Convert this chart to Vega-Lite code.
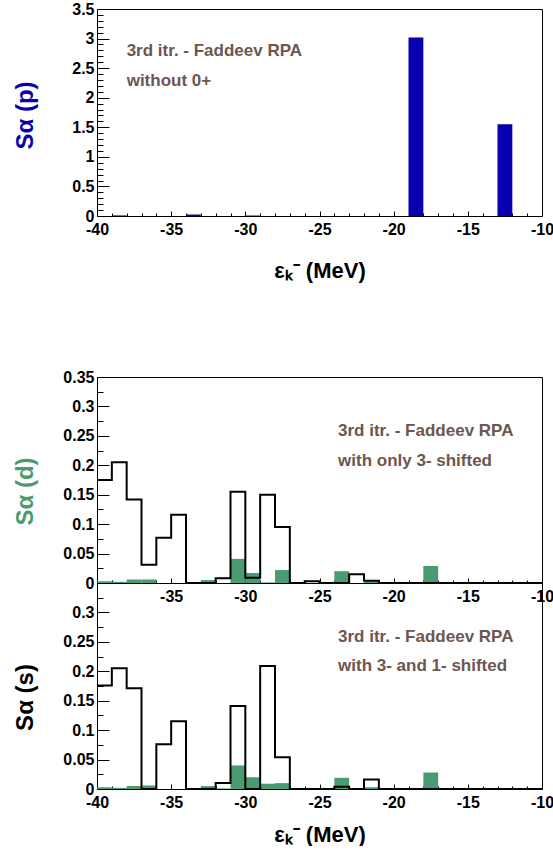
{
  "$schema": "https://vega.github.io/schema/vega-lite/v6.json",
  "background": "white",
  "padding": {"left": 12, "top": 0, "right": 0, "bottom": 0},
  "autosize": {"type": "pad"},
  "config": {
    "view": {"stroke": "black", "strokeWidth": 1},
    "font": "Liberation Sans",
    "axis": {
      "grid": false,
      "domain": false,
      "labelFont": "Liberation Sans",
      "labelFontWeight": "bold",
      "labelFontSize": 16,
      "labelColor": "black",
      "titleFont": "Liberation Sans",
      "titleFontWeight": "bold",
      "titleColor": "black",
      "tickColor": "black",
      "tickWidth": 1,
      "labelOverlap": false,
      "labelFlush": false
    }
  },
  "datasets": {
    "p": [
      {"e": -39, "e1": -38, "s": 0.01},
      {"e": -34, "e1": -33, "s": 0.025},
      {"e": -30, "e1": -29, "s": 0.008},
      {"e": -19, "e1": -18, "s": 3.02},
      {"e": -13, "e1": -12, "s": 1.55}
    ],
    "d": [
      {"e": -40, "e1": -39, "tot": 0.175, "part": 0.003},
      {"e": -39, "e1": -38, "tot": 0.205, "part": 0.002},
      {"e": -38, "e1": -37, "tot": 0.142, "part": 0.006},
      {"e": -37, "e1": -36, "tot": 0.031, "part": 0.006},
      {"e": -36, "e1": -35, "tot": 0.077, "part": 0},
      {"e": -35, "e1": -34, "tot": 0.116, "part": 0},
      {"e": -34, "e1": -33, "tot": 0, "part": 0},
      {"e": -33, "e1": -32, "tot": 0, "part": 0.005},
      {"e": -32, "e1": -31, "tot": 0.008, "part": 0},
      {"e": -31, "e1": -30, "tot": 0.155, "part": 0.041},
      {"e": -30, "e1": -29, "tot": 0.009, "part": 0.017},
      {"e": -29, "e1": -28, "tot": 0.150, "part": 0.001},
      {"e": -28, "e1": -27, "tot": 0.095, "part": 0.022},
      {"e": -27, "e1": -26, "tot": 0, "part": 0},
      {"e": -26, "e1": -25, "tot": 0.003, "part": 0},
      {"e": -25, "e1": -24, "tot": 0, "part": 0},
      {"e": -24, "e1": -23, "tot": 0, "part": 0.020},
      {"e": -23, "e1": -22, "tot": 0.015, "part": 0},
      {"e": -22, "e1": -21, "tot": 0.004, "part": 0.003},
      {"e": -21, "e1": -20, "tot": 0, "part": 0},
      {"e": -20, "e1": -19, "tot": 0, "part": 0},
      {"e": -19, "e1": -18, "tot": 0, "part": 0},
      {"e": -18, "e1": -17, "tot": 0, "part": 0.029},
      {"e": -17, "e1": -16, "tot": 0, "part": 0},
      {"e": -16, "e1": -15, "tot": 0, "part": 0},
      {"e": -15, "e1": -14, "tot": 0, "part": 0},
      {"e": -14, "e1": -13, "tot": 0, "part": 0},
      {"e": -13, "e1": -12, "tot": 0, "part": 0},
      {"e": -12, "e1": -11, "tot": 0, "part": 0},
      {"e": -11, "e1": -10, "tot": 0, "part": 0},
      {"e": -10, "e1": null, "tot": 0, "part": null}
    ],
    "s": [
      {"e": -40, "e1": -39, "tot": 0.176, "part": 0.003},
      {"e": -39, "e1": -38, "tot": 0.205, "part": 0.002},
      {"e": -38, "e1": -37, "tot": 0.171, "part": 0.005},
      {"e": -37, "e1": -36, "tot": 0, "part": 0.006},
      {"e": -36, "e1": -35, "tot": 0.076, "part": 0},
      {"e": -35, "e1": -34, "tot": 0.115, "part": 0},
      {"e": -34, "e1": -33, "tot": 0, "part": 0},
      {"e": -33, "e1": -32, "tot": 0, "part": 0.005},
      {"e": -32, "e1": -31, "tot": 0.010, "part": 0.001},
      {"e": -31, "e1": -30, "tot": 0.141, "part": 0.040},
      {"e": -30, "e1": -29, "tot": 0, "part": 0.020},
      {"e": -29, "e1": -28, "tot": 0.209, "part": 0.009},
      {"e": -28, "e1": -27, "tot": 0.054, "part": 0.010},
      {"e": -27, "e1": -26, "tot": 0, "part": 0},
      {"e": -26, "e1": -25, "tot": 0, "part": 0},
      {"e": -25, "e1": -24, "tot": 0, "part": 0},
      {"e": -24, "e1": -23, "tot": 0.004, "part": 0.019},
      {"e": -23, "e1": -22, "tot": 0, "part": 0},
      {"e": -22, "e1": -21, "tot": 0.016, "part": 0.003},
      {"e": -21, "e1": -20, "tot": 0, "part": 0},
      {"e": -20, "e1": -19, "tot": 0, "part": 0},
      {"e": -19, "e1": -18, "tot": 0, "part": 0},
      {"e": -18, "e1": -17, "tot": 0, "part": 0.028},
      {"e": -17, "e1": -16, "tot": 0, "part": 0},
      {"e": -16, "e1": -15, "tot": 0, "part": 0},
      {"e": -15, "e1": -14, "tot": 0, "part": 0},
      {"e": -14, "e1": -13, "tot": 0, "part": 0},
      {"e": -13, "e1": -12, "tot": 0, "part": 0},
      {"e": -12, "e1": -11, "tot": 0, "part": 0},
      {"e": -11, "e1": -10, "tot": 0, "part": 0},
      {"e": -10, "e1": null, "tot": 0, "part": null}
    ],
    "notes": [
      {"panel": "p", "x": -38, "y": 2.79, "t": "3rd itr. - Faddeev RPA"},
      {"panel": "p", "x": -38, "y": 2.28, "t": "without 0+"},
      {"panel": "d", "x": -23.75, "y": 0.258, "t": "3rd itr. - Faddeev RPA"},
      {"panel": "d", "x": -23.75, "y": 0.207, "t": "with only 3- shifted"},
      {"panel": "s", "x": -23.75, "y": 0.2585, "t": "3rd itr. - Faddeev RPA"},
      {"panel": "s", "x": -23.75, "y": 0.2088, "t": "with 3- and 1- shifted"}
    ]
  },
  "spacing": 86,
  "vconcat": [
    {
      "width": 445,
      "height": 207,
      "resolve": {"axis": {"x": "independent", "y": "independent"}},
      "layer": [
        {
          "data": {"name": "p"},
          "mark": {"type": "rect", "color": "#0600b0"},
          "encoding": {
            "x": {"field": "e", "type": "quantitative",
              "scale": {"domain": [-40, -10], "nice": false, "zero": false},
              "axis": {"orient": "bottom",
                "values": [-40,-39,-38,-37,-36,-35,-34,-33,-32,-31,-30,-29,-28,-27,-26,-25,-24,-23,-22,-21,-20,-19,-18,-17,-16,-15,-14,-13,-12,-11,-10],
                "ticks": true,
                "tickSize": {"condition": {"test": "datum.value % 5 === 0", "value": -5}, "value": -3},
                "labelPadding": 10,
                "labelExpr": "datum.value % 5 === 0 ? replace(datum.label, '\u2212', '-') : ''",
                "title": "ε\u2096\u207b (MeV)", "titleFontSize": 22, "titlePadding": 21}},
            "x2": {"field": "e1"},
            "y": {"field": "s", "type": "quantitative",
              "scale": {"domain": [0, 3.5], "nice": false},
              "axis": {"orient": "left",
                "values": [0,0.1,0.2,0.3,0.4,0.5,0.6,0.7,0.8,0.9,1,1.1,1.2,1.3,1.4,1.5,1.6,1.7,1.8,1.9,2,2.1,2.2,2.3,2.4,2.5,2.6,2.7,2.8,2.9,3,3.1,3.2,3.3,3.4,3.5],
                "ticks": true,
                "tickSize": {"condition": {"test": "abs(datum.value * 2 - round(datum.value * 2)) < 0.001", "value": -12}, "value": -6},
                "format": "~g", "labelPadding": 15,
                "labelExpr": "abs(datum.value * 2 - round(datum.value * 2)) < 0.001 ? datum.label : ''",
                "title": "Sα (p)", "titleFontSize": 24, "titleColor": "#0600b0", "titleAngle": 270, "titleBaseline": "alphabetic", "titleAlign": "center", "titleX": -65, "titleY": 106}},
            "y2": {"datum": 0}
          }
        },
        {
          "data": {"name": "notes"},
          "transform": [{"filter": "datum.panel === 'p'"}],
          "mark": {"type": "text", "align": "left", "baseline": "middle", "font": "Liberation Sans", "fontWeight": "bold", "fontSize": 17, "color": "#6e5650"},
          "encoding": {
            "x": {"field": "x", "type": "quantitative", "axis": null},
            "y": {"field": "y", "type": "quantitative", "axis": null},
            "text": {"field": "t"}
          }
        }
      ]
    },
    {
      "spacing": 0,
      "bounds": "flush",
      "vconcat": [
        {
          "width": 445,
          "height": 206,
          "resolve": {"axis": {"x": "independent", "y": "independent"}},
          "layer": [
            {
              "data": {"name": "d"},
              "mark": {"type": "rect", "color": "#4a9b72"},
              "encoding": {
                "x": {"field": "e", "type": "quantitative",
                  "scale": {"domain": [-40, -10], "nice": false, "zero": false},
                  "axis": {"orient": "bottom",
                    "values": [-40,-39,-38,-37,-36,-35,-34,-33,-32,-31,-30,-29,-28,-27,-26,-25,-24,-23,-22,-21,-20,-19,-18,-17,-16,-15,-14,-13,-12,-11,-10],
                    "ticks": true,
                    "tickSize": {"condition": {"test": "datum.value % 5 === 0", "value": -5}, "value": -3},
                    "labelPadding": 10,
                    "labelExpr": "datum.value % 5 === 0 && datum.value > -40 ? replace(datum.label, '\u2212', '-') : ''",
                    "title": null}},
                "x2": {"field": "e1"},
                "y": {"field": "part", "type": "quantitative",
                  "scale": {"domain": [0, 0.35], "nice": false},
                  "axis": {"orient": "left",
                    "values": [0,0.025,0.05,0.075,0.1,0.125,0.15,0.175,0.2,0.225,0.25,0.275,0.3,0.325,0.35],
                    "ticks": true,
                    "tickSize": {"condition": {"test": "abs(datum.value * 20 - round(datum.value * 20)) < 0.001", "value": -12}, "value": -6},
                    "format": "~g", "labelPadding": 15,
                    "labelExpr": "abs(datum.value * 20 - round(datum.value * 20)) < 0.001 ? datum.label : ''",
                    "title": "Sα (d)", "titleFontSize": 24, "titleColor": "#4a9b72", "titleAngle": 270, "titleBaseline": "alphabetic", "titleAlign": "center", "titleX": -65, "titleY": 114}},
                "y2": {"datum": 0}
              }
            },
            {
              "data": {"name": "d"},
              "mark": {"type": "line", "interpolate": "step-after", "color": "black", "strokeWidth": 2},
              "encoding": {
                "x": {"field": "e", "type": "quantitative", "axis": null},
                "y": {"field": "tot", "type": "quantitative", "axis": null}
              }
            },
            {
              "data": {"name": "notes"},
              "transform": [{"filter": "datum.panel === 'd'"}],
              "mark": {"type": "text", "align": "left", "baseline": "middle", "font": "Liberation Sans", "fontWeight": "bold", "fontSize": 17, "color": "#6e5650"},
              "encoding": {
                "x": {"field": "x", "type": "quantitative", "axis": null},
                "y": {"field": "y", "type": "quantitative", "axis": null},
                "text": {"field": "t"}
              }
            }
          ]
        },
        {
          "width": 445,
          "height": 206,
          "resolve": {"axis": {"x": "independent", "y": "independent"}},
          "layer": [
            {
              "data": {"name": "s"},
              "mark": {"type": "rect", "color": "#4a9b72"},
              "encoding": {
                "x": {"field": "e", "type": "quantitative",
                  "scale": {"domain": [-40, -10], "nice": false, "zero": false},
                  "axis": {"orient": "bottom",
                    "values": [-40,-39,-38,-37,-36,-35,-34,-33,-32,-31,-30,-29,-28,-27,-26,-25,-24,-23,-22,-21,-20,-19,-18,-17,-16,-15,-14,-13,-12,-11,-10],
                    "ticks": true,
                    "tickSize": {"condition": {"test": "datum.value % 5 === 0", "value": -5}, "value": -3},
                    "labelPadding": 10,
                    "labelExpr": "datum.value % 5 === 0 ? replace(datum.label, '\u2212', '-') : ''",
                    "title": "ε\u2096\u207b (MeV)", "titleFontSize": 22, "titlePadding": 12}},
                "x2": {"field": "e1"},
                "y": {"field": "part", "type": "quantitative",
                  "scale": {"domain": [0, 0.35], "nice": false},
                  "axis": {"orient": "left",
                    "values": [0,0.025,0.05,0.075,0.1,0.125,0.15,0.175,0.2,0.225,0.25,0.275,0.3,0.325,0.35],
                    "ticks": true,
                    "tickSize": {"condition": {"test": "abs(datum.value * 20 - round(datum.value * 20)) < 0.001", "value": -12}, "value": -6},
                    "format": "~g", "labelPadding": 15,
                    "labelExpr": "abs(datum.value * 20 - round(datum.value * 20)) < 0.001 && datum.value < 0.34 ? datum.label : ''",
                    "title": "Sα (s)", "titleFontSize": 24, "titleColor": "black", "titleAngle": 270, "titleBaseline": "alphabetic", "titleAlign": "center", "titleX": -65, "titleY": 114}},
                "y2": {"datum": 0}
              }
            },
            {
              "data": {"name": "s"},
              "mark": {"type": "line", "interpolate": "step-after", "color": "black", "strokeWidth": 2},
              "encoding": {
                "x": {"field": "e", "type": "quantitative", "axis": null},
                "y": {"field": "tot", "type": "quantitative", "axis": null}
              }
            },
            {
              "data": {"name": "notes"},
              "transform": [{"filter": "datum.panel === 's'"}],
              "mark": {"type": "text", "align": "left", "baseline": "middle", "font": "Liberation Sans", "fontWeight": "bold", "fontSize": 17, "color": "#6e5650"},
              "encoding": {
                "x": {"field": "x", "type": "quantitative", "axis": null},
                "y": {"field": "y", "type": "quantitative", "axis": null},
                "text": {"field": "t"}
              }
            }
          ]
        }
      ]
    }
  ]
}
